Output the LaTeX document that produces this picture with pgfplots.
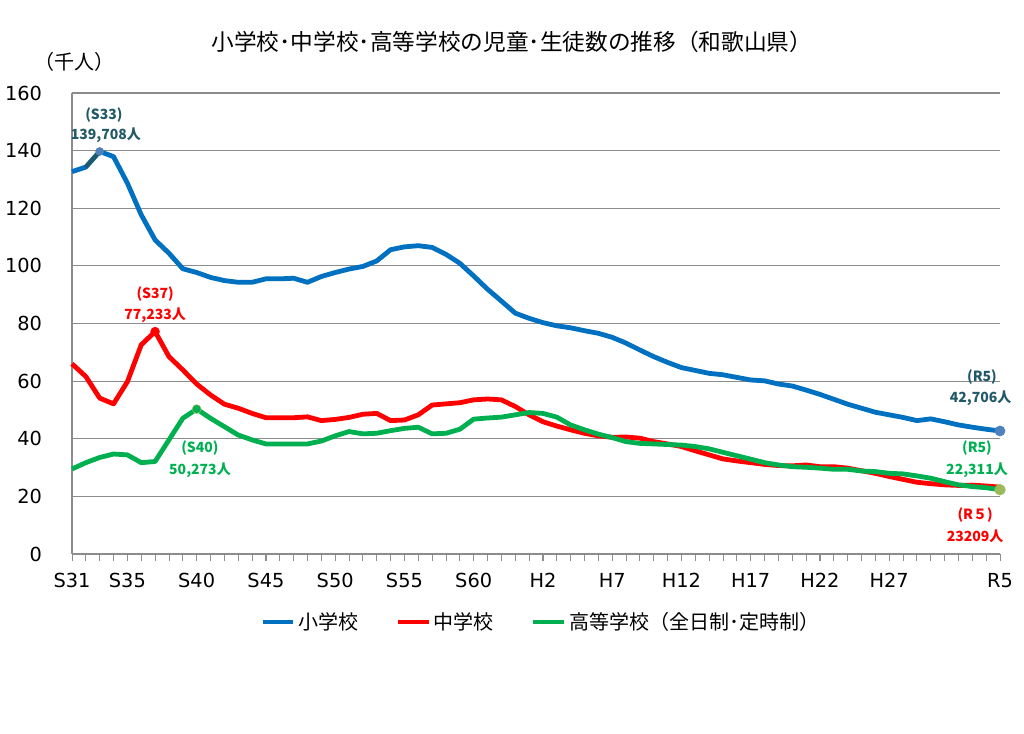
\documentclass[border=0pt]{standalone}
\usepackage{fontspec}
\setmainfont{Noto Sans CJK JP}
\newfontfamily\tickfont{DejaVu Sans}
\usepackage{pgfplots}
\pgfplotsset{compat=1.18}
\definecolor{cblue}{HTML}{0070C0}
\definecolor{cred}{HTML}{FF0000}
\definecolor{cgreen}{HTML}{00B050}
\definecolor{mblue}{HTML}{4F81BD}
\definecolor{mgreen}{HTML}{9BBB59}
\definecolor{lteal}{HTML}{215968}
\definecolor{gridc}{HTML}{8C8C8C}
\begin{document}
\begin{tikzpicture}
\useasboundingbox (-54pt,-135pt) rectangle (714pt,415.5pt);
\begin{axis}[
 at={(0,0)}, anchor=south west,
 scale only axis, width=696pt, height=345.75pt,
 xmin=1956, xmax=2023, ymin=0, ymax=160,
 clip=false,
 axis x line=bottom, axis y line=left,
 axis line style={-, draw=gridc, line width=0.8pt},
 ytick={0,20,...,160},
 ymajorgrids, grid style={draw=gridc, line width=0.8pt},
 ytick style={draw=none},
 xtick={1956,1960,1965,1970,1975,1980,1985,1990,1995,2000,2005,2010,2015,2023},
 xticklabels={S31,S35,S40,S45,S50,S55,S60,H2,H7,H12,H17,H22,H27,R5},
 minor xtick={1956,...,2023},
 tick align=outside, major tick length=5pt, minor tick length=5pt,
 xtick style={draw=gridc, line width=0.6pt},
 /pgf/number format/assume math mode=true,
 yticklabel style={font=\tickfont\fontsize{14.5}{14.5}\selectfont, xshift=-14pt},
 xticklabel style={font=\tickfont\fontsize{14.5}{14.5}\selectfont, yshift=-6pt},
 legend style={at={(0.5054,-0.1475)}, anchor=center, draw=none, fill=none,
   legend columns=-1, font=\fontsize{15}{15}\selectfont,
   /tikz/every even column/.append style={column sep=26pt}},
 legend image code/.code={\draw[#1] (0pt,0pt) -- (23pt,0pt);},
]
\addplot[cblue, line width=3.6pt, line join=round] coordinates {
(1956,132.7)(1957,134.3)(1958,139.7)(1959,137.9)(1960,128.7)(1961,117.7)(1962,109.0)(1963,104.4)(1964,99.0)(1965,97.7)
(1966,96.0)(1967,94.9)(1968,94.3)(1969,94.3)(1970,95.5)(1971,95.5)(1972,95.7)(1973,94.3)(1974,96.3)(1975,97.7)
(1976,98.9)(1977,99.8)(1978,101.7)(1979,105.6)(1980,106.6)(1981,107.0)(1982,106.4)(1983,104.0)(1984,100.9)(1985,96.5)
(1986,91.9)(1987,87.8)(1988,83.6)(1989,81.8)(1990,80.3)(1991,79.2)(1992,78.5)(1993,77.5)(1994,76.6)(1995,75.2)
(1996,73.2)(1997,70.8)(1998,68.5)(1999,66.5)(2000,64.7)(2001,63.7)(2002,62.7)(2003,62.2)(2004,61.3)(2005,60.4)
(2006,60.1)(2007,59.0)(2008,58.3)(2009,56.9)(2010,55.4)(2011,53.7)(2012,52.0)(2013,50.6)(2014,49.2)(2015,48.3)
(2016,47.4)(2017,46.3)(2018,46.9)(2019,45.9)(2020,44.8)(2021,44.0)(2022,43.3)(2023,42.7)};
\addlegendentry{小学校}
\addplot[cred, line width=3.6pt, line join=round] coordinates {
(1956,66.0)(1957,61.6)(1958,54.1)(1959,52.1)(1960,59.8)(1961,72.6)(1962,77.2)(1963,68.5)(1964,63.9)(1965,59.0)
(1966,55.2)(1967,52.0)(1968,50.6)(1969,48.8)(1970,47.3)(1971,47.3)(1972,47.3)(1973,47.6)(1974,46.3)(1975,46.7)
(1976,47.4)(1977,48.5)(1978,48.8)(1979,46.3)(1980,46.5)(1981,48.3)(1982,51.7)(1983,52.1)(1984,52.5)(1985,53.5)
(1986,53.8)(1987,53.5)(1988,51.2)(1989,48.3)(1990,45.9)(1991,44.4)(1992,43.1)(1993,41.9)(1994,41.0)(1995,40.5)
(1996,40.6)(1997,40.2)(1998,39.0)(1999,38.2)(2000,37.3)(2001,35.8)(2002,34.4)(2003,33.0)(2004,32.3)(2005,31.7)
(2006,31.1)(2007,30.7)(2008,30.6)(2009,30.9)(2010,30.3)(2011,30.3)(2012,29.8)(2013,28.9)(2014,28.0)(2015,26.9)
(2016,25.9)(2017,24.9)(2018,24.4)(2019,24.0)(2020,23.8)(2021,23.9)(2022,23.6)(2023,23.2)};
\addlegendentry{中学校}
\addplot[cgreen, line width=3.6pt, line join=round] coordinates {
(1956,29.5)(1957,31.7)(1958,33.5)(1959,34.7)(1960,34.4)(1961,31.7)(1962,32.1)(1963,39.6)(1964,47.1)(1965,50.3)
(1966,47.1)(1967,44.2)(1968,41.3)(1969,39.6)(1970,38.2)(1971,38.2)(1972,38.2)(1973,38.2)(1974,39.2)(1975,41.0)
(1976,42.5)(1977,41.7)(1978,41.9)(1979,42.8)(1980,43.6)(1981,44.0)(1982,41.7)(1983,41.9)(1984,43.3)(1985,46.8)
(1986,47.2)(1987,47.5)(1988,48.3)(1989,49.1)(1990,48.8)(1991,47.5)(1992,44.8)(1993,43.1)(1994,41.6)(1995,40.4)
(1996,39.0)(1997,38.4)(1998,38.2)(1999,38.0)(2000,37.8)(2001,37.3)(2002,36.5)(2003,35.3)(2004,34.1)(2005,32.9)
(2006,31.7)(2007,30.9)(2008,30.3)(2009,30.1)(2010,29.8)(2011,29.4)(2012,29.4)(2013,28.8)(2014,28.6)(2015,28.0)
(2016,27.8)(2017,27.1)(2018,26.3)(2019,25.1)(2020,24.0)(2021,23.4)(2022,23.0)(2023,22.3)};
\addlegendentry{高等学校（全日制･定時制）}
% dark leader segment
\addplot[forget plot, lteal, line width=3pt] coordinates {(1957,134.3)(1958,139.7)};
% markers
\addplot[forget plot, only marks, mark=*, mark size=3pt, mark options={fill=mblue, draw=mblue}] coordinates {(1958,139.7)};
\addplot[forget plot, only marks, mark=*, mark size=3.8pt, mark options={fill=mblue, draw=mblue}] coordinates {(2023,42.7)};
\addplot[forget plot, only marks, mark=*, mark size=3.3pt, mark options={fill=cred, draw=cred}] coordinates {(1962,77.2)};
\addplot[forget plot, only marks, mark=*, mark size=3.3pt, mark options={fill=cgreen, draw=mgreen}] coordinates {(1965,50.3)};
\addplot[forget plot, only marks, mark=*, mark size=4pt, mark options={fill=mgreen, draw=mgreen}] coordinates {(2023,22.3)};
% data labels
\begin{scope}[every node/.style={font=\fontsize{10.5}{10.5}\selectfont\bfseries, inner sep=0pt}]
\node[text=lteal] at (axis cs:1958.31,152.4) {(S33)};
\node[text=lteal] at (axis cs:1958.45,145.4) {139,708人};
\node[text=cred] at (axis cs:1962.0,90.2) {(S37)};
\node[text=cred] at (axis cs:1962.0,83.0) {77,233人};
\node[text=cgreen] at (axis cs:1965.24,36.8) {(S40)};
\node[text=cgreen] at (axis cs:1965.24,29.2) {50,273人};
\node[text=lteal] at (axis cs:2021.7,61.4) {(R5)};
\node[text=lteal] at (axis cs:2021.6,54.1) {42,706人};
\node[text=cgreen] at (axis cs:2021.34,36.8) {(R5)};
\node[text=cgreen] at (axis cs:2021.34,29.2) {22,311人};
\node[text=cred] at (axis cs:2021.2,13.5) {(R５)};
\node[text=cred] at (axis cs:2021.2,6.2) {23209人};
\end{scope}
\node[font=\fontsize{17}{17}\selectfont] at (rel axis cs:0.474,1.1106) {小学校･中学校･高等学校の児童･生徒数の推移（和歌山県）};
\node[font=\fontsize{15}{15}\selectfont] at (rel axis cs:0.0032,1.067) {（千人）};
\end{axis}
\end{tikzpicture}
\end{document}
